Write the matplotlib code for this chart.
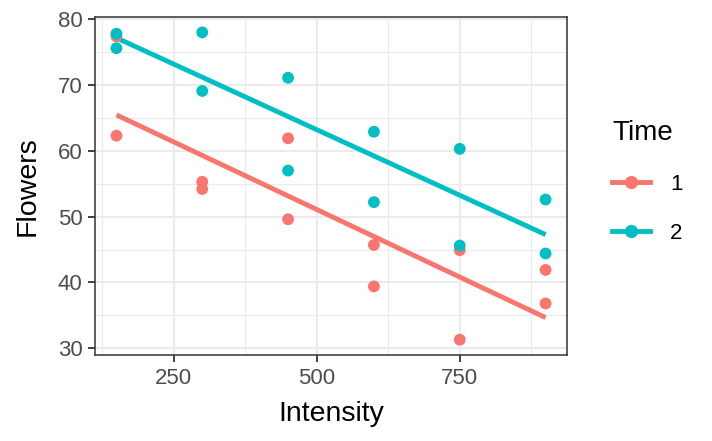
import numpy as np
import matplotlib.pyplot as plt
from matplotlib.lines import Line2D

plt.rcParams['font.family'] = ['Liberation Sans', 'DejaVu Sans']

intensity = [150, 150, 300, 300, 450, 450, 600, 600, 750, 750, 900, 900]
flowers_t1 = [62.3, 77.4, 55.3, 54.2, 49.6, 61.9, 39.4, 45.7, 31.3, 44.9, 36.8, 41.9]
flowers_t2 = [77.8, 75.6, 69.1, 78.0, 57.0, 71.1, 62.9, 52.2, 60.3, 45.6, 52.6, 44.4]
times = ['1', '2']
colors = ['#F8766D', '#00BFC4']

fig = plt.figure(figsize=(7.12, 4.41), dpi=100)
ax = fig.add_axes([0.1334, 0.195, 0.663, 0.7665])

x = np.array(intensity)
for yv, c in zip([flowers_t1, flowers_t2], colors):
    yv = np.array(yv)
    b, a = np.polyfit(x, yv, 1)
    xs = np.array([x.min(), x.max()])
    ax.plot(xs, a + b * xs, color=c, lw=3.5, zorder=3, solid_capstyle='butt')
    ax.scatter(x, yv, color=c, s=72, zorder=4, edgecolors='none')

ax.set_xlim(112.5, 937.5)
ax.set_ylim(28.97, 80.34)
ax.set_xticks([250, 500, 750])
ax.set_yticks([30, 40, 50, 60, 70, 80])
ax.set_xticks([125, 375, 625, 875], minor=True)
ax.set_yticks([35, 45, 55, 65, 75], minor=True)
ax.grid(True, which='major', color='#EBEBEB', lw=1.5, zorder=0)
ax.grid(True, which='minor', color='#EBEBEB', lw=0.8, zorder=0)
ax.set_axisbelow(True)
ax.tick_params(which='minor', length=0)
ax.tick_params(which='major', length=5, width=1.3, color='#333333',
               labelsize=16, labelcolor='#4D4D4D', pad=4)
for s in ax.spines.values():
    s.set_color('#333333')
    s.set_linewidth(1.1)

ax.set_xlabel('Intensity', fontsize=20.5, color='black', labelpad=9)
ax.set_ylabel('Flowers', fontsize=20.5, color='black', labelpad=12)

handles = [Line2D([], [], color=c, lw=3.5, marker='o', markersize=8.5) for c in colors]
leg = fig.legend(handles, times, title='Time', loc='upper left',
                 bbox_to_anchor=(612 / 712, 1 - 120 / 441), frameon=False,
                 fontsize=16, title_fontsize=20, handlelength=1.7,
                 handletextpad=0.9, labelspacing=1.25, borderpad=0,
                 borderaxespad=0)
leg._legend_box.align = 'left'

fig.savefig('out.png', dpi=100)
